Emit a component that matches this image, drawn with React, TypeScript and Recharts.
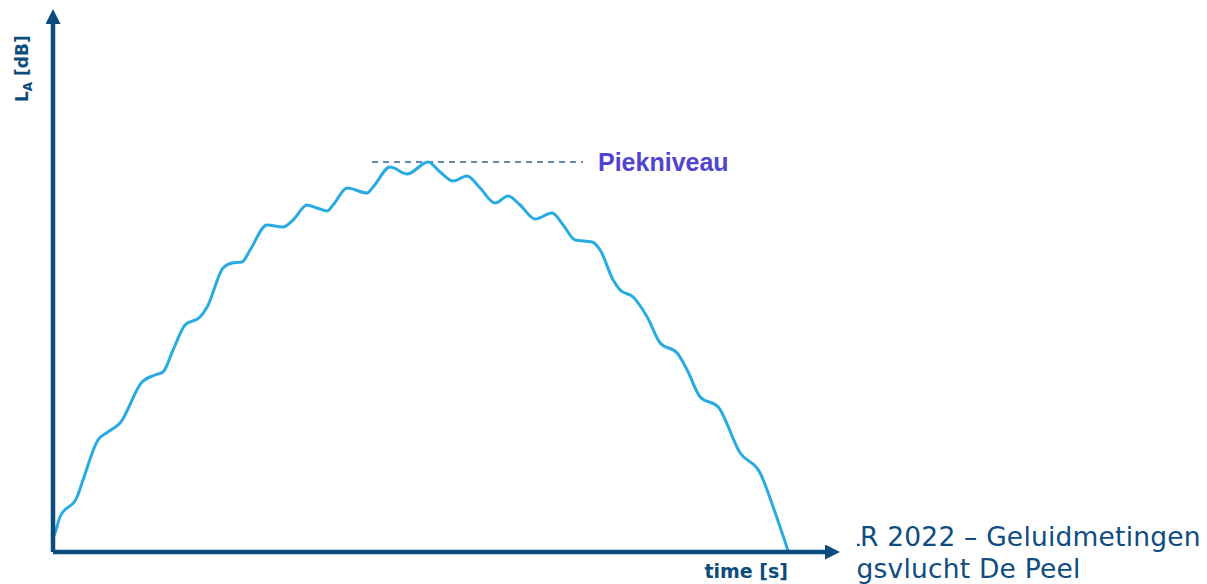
import React from "react";
import { LineChart, Line, XAxis, YAxis, ReferenceLine } from "recharts";

// time [s] samples and sound level L_A [dB]
const times = [
  0, 0.27, 0.95, 3.27, 4.08, 6.12, 7.48, 9.12, 12.11, 13.88, 14.97, 16.33, 17.96, 20.0, 20.96,
  23.13, 24.36, 25.72, 26.81, 29.12, 31.3, 32.66, 34.56, 35.92, 37.28, 38.1, 40.01, 42.73, 43.54,
  45.86, 48.17, 51.03, 52.66, 54.43, 56.33, 58.1, 60.14, 61.91, 63.55, 65.59, 67.9, 69.4, 71.03,
  73.34, 74.43, 76.2, 77.15, 78.92, 80.83, 82.6, 84.91, 86.27, 88.04, 90.49, 93.48, 96.2, 97.97, 100.0,
];
const levels = [
  2.8, 3.8, 7.0, 11.0, 14.4, 22.4, 24.0, 25.8, 34.0, 35.4, 36.0, 40.4, 45.4, 47.0, 49.0,
  56.8, 57.8, 58.0, 60.4, 65.4, 65.0, 66.4, 69.4, 68.8, 68.2, 69.4, 72.8, 71.8, 73.0,
  77.0, 75.6, 78.0, 76.0, 74.2, 75.2, 72.8, 69.8, 71.2, 69.4, 66.6, 67.8, 65.4, 62.4,
  62.0, 60.4, 54.4, 52.4, 51.0, 47.0, 41.8, 39.8, 36.4, 31.0, 29.0, 19.8, 15.8, 9.0, 0.2,
];
const peakLevel = 78.0;
const peakLineStart = 43.4;
const peakLineEnd = 72.1;
const peakLabel = "Piekniveau";
const xLabel = "time [s]";
const yLabelMain = "L";
const yLabelSub = "A";
const yLabelUnit = " [dB]";
const footerLine1 = "LR 2022 – Geluidmetingen";
const footerLine2 = "gsvlucht De Peel";

const data = times.map((t, i) => ({ t, L: levels[i] }));

const AXIS = "#0b4c7c";
const CURVE = "#29abe2";

const XLabel = (p: any) => {
  const vb = p && p.viewBox ? p.viewBox : { x: 53, y: 552, width: 777, height: 32 };
  return (
    <text
      x={vb.x + vb.width - 42}
      y={vb.y + 26}
      textAnchor="end"
      fill={AXIS}
      fontFamily="DejaVu Sans"
      fontWeight="bold"
      fontSize={19}
    >
      {xLabel}
    </text>
  );
};

const YLabel = (p: any) => {
  const vb = p && p.viewBox ? p.viewBox : { x: 13, y: 19, width: 40, height: 533 };
  const x = vb.x + 15;
  const y = vb.y + 83;
  return (
    <text
      x={x}
      y={y}
      transform={`rotate(-90, ${x}, ${y})`}
      fill={AXIS}
      fontFamily="DejaVu Sans"
      fontWeight="bold"
      fontSize={17}
    >
      {yLabelMain}
      <tspan fontSize={12} dy={4}>
        {yLabelSub}
      </tspan>
      <tspan dy={-4}>{yLabelUnit}</tspan>
    </text>
  );
};

export default function App() {
  return (
    <div style={{ position: "absolute", left: 0, top: 0, width: 1207, height: 584, background: "#fff" }}>
      <svg width={0} height={0} style={{ position: "absolute" }}>
        <defs>
          <marker
            id="arrowX"
            markerUnits="userSpaceOnUse"
            markerWidth={16}
            markerHeight={16}
            refX={5}
            refY={7.5}
            orient="auto"
          >
            <path d="M0,0 L15,7.5 L0,15 z" fill={AXIS} />
          </marker>
          <marker
            id="arrowY"
            markerUnits="userSpaceOnUse"
            markerWidth={16}
            markerHeight={16}
            refX={5}
            refY={7.5}
            orient="auto-start-reverse"
          >
            <path d="M0,0 L15,7.5 L0,15 z" fill={AXIS} />
          </marker>
        </defs>
      </svg>
      <LineChart
        width={1207}
        height={584}
        data={data}
        margin={{ top: 19, right: 377, bottom: 0, left: 13 }}
      >
        <XAxis
          type="number"
          dataKey="t"
          domain={[0, 105.7]}
          allowDataOverflow
          tick={false}
          tickLine={false}
          height={32}
          axisLine={{ stroke: AXIS, strokeWidth: 4.5, markerEnd: "url(#arrowX)" }}
          label={{ content: XLabel }}
        />
        <YAxis
          type="number"
          domain={[0, 106.6]}
          allowDataOverflow
          tick={false}
          tickLine={false}
          width={40}
          axisLine={{ stroke: AXIS, strokeWidth: 4.5, markerStart: "url(#arrowY)" }}
          label={{ content: YLabel }}
        />
        <ReferenceLine
          segment={[
            { x: peakLineStart, y: peakLevel },
            { x: peakLineEnd, y: peakLevel },
          ]}
          stroke="#2d6390"
          strokeWidth={1.3}
          strokeDasharray="6 5"
          label={{
            value: peakLabel,
            position: "right",
            offset: 15,
            fill: "#5044cf",
            fontSize: 25,
            fontWeight: "bold",
            fontFamily: "Liberation Sans",
          }}
        />
        <Line
          type="monotone"
          dataKey="L"
          stroke={CURVE}
          strokeWidth={3}
          dot={false}
          activeDot={false}
          isAnimationActive={false}
        />
      </LineChart>
      <svg
        width={1207}
        height={584}
        style={{ position: "absolute", left: 0, top: 0, pointerEvents: "none" }}
      >
        <defs>
          <clipPath id="footerClip">
            <rect x={857} y={500} width={350} height={84} />
          </clipPath>
        </defs>
        <g
          clipPath="url(#footerClip)"
          fill="#0f4c81"
          fontFamily="DejaVu Sans"
          fontSize={26.5}
          letterSpacing={0.2}
        >
          <text x={845} y={546}>
            {footerLine1}
          </text>
          <text x={856.5} y={578}>
            {footerLine2}
          </text>
        </g>
      </svg>
    </div>
  );
}
